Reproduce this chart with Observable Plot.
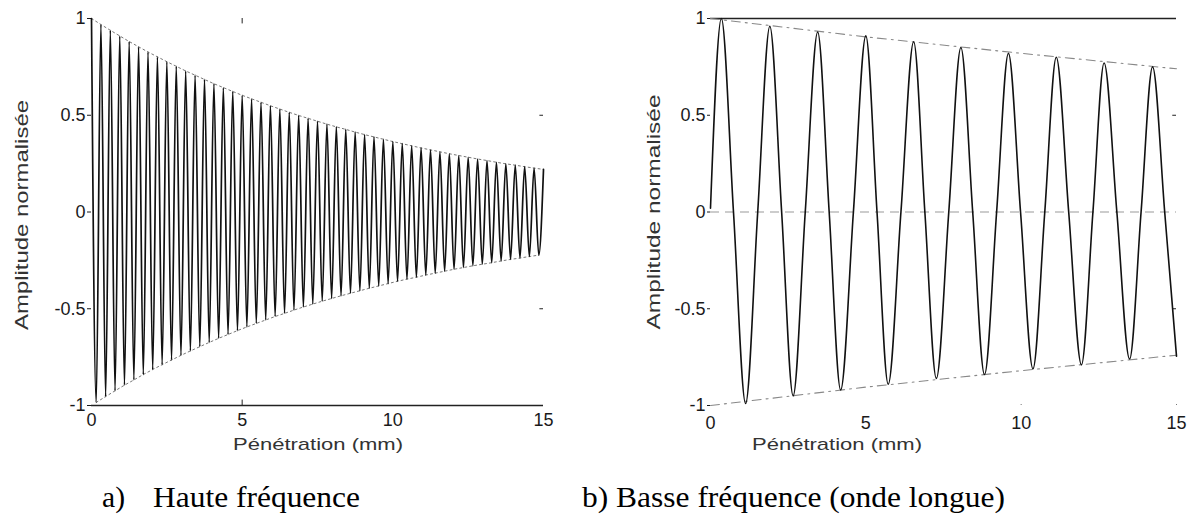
<!DOCTYPE html>
<html><head><meta charset="utf-8">
<script src="https://cdn.jsdelivr.net/npm/d3@7"></script>
<script src="https://cdn.jsdelivr.net/npm/@observablehq/plot@0.6"></script>
<style>
html,body{margin:0;padding:0;background:#fff;}
#wrap{position:relative;width:1197px;height:529px;overflow:hidden;background:#fff;}
#wrap > svg{position:absolute;top:0;}
</style></head><body><div id="wrap"></div>
<script>
// ---- data ----
const xTicks = [0, 5, 10, 15];
const yTicks = [-1, -0.5, 0, 0.5, 1];

// Panel a (high frequency): period between peaks (mm) and successive peak / trough amplitudes
const aPeriod = 0.3125;
const aPeaks = [1.000,0.969,0.939,0.910,0.881,0.854,0.827,0.802,0.777,0.753,0.729,0.707,0.685,0.663,0.643,0.623,0.603,0.585,0.567,0.549,0.532,0.515,0.499,0.484,0.469,0.454,0.440,0.427,0.413,0.400,0.388,0.376,0.364,0.353,0.342,0.331,0.321,0.311,0.301,0.292,0.283,0.274,0.266,0.257,0.249,0.242,0.234,0.227,0.220];
const aTroughs = [0.984,0.954,0.924,0.895,0.868,0.840,0.814,0.789,0.765,0.741,0.718,0.696,0.674,0.653,0.633,0.613,0.594,0.576,0.558,0.540,0.524,0.507,0.491,0.476,0.461,0.447,0.433,0.420,0.407,0.394,0.382,0.370,0.358,0.347,0.337,0.326,0.316,0.306,0.296,0.287,0.278,0.270,0.262,0.253,0.245,0.238,0.230,0.223];

// Panel b (low frequency): key points of the curve (start, peaks, zero crossings, troughs)
const bX = [0,0.35,0.74,1.13,1.52,1.91,2.29,2.66,3.05,3.45,3.82,4.19,4.60,5.00,5.36,5.72,6.13,6.54,6.90,7.27,7.67,8.06,8.44,8.82,9.21,9.59,9.98,10.38,10.76,11.13,11.53,11.94,12.31,12.67,13.08,13.49,13.86,14.23,14.62,15.0];
const bY = [0.02,1.00,0,-0.99,0,0.96,0,-0.95,0,0.93,0,-0.92,0,0.91,0,-0.89,0,0.88,0,-0.86,0,0.85,0,-0.84,0,0.82,0,-0.81,0,0.80,0,-0.79,0,0.77,0,-0.76,0,0.75,0,-0.745];
const bEnvX = [0, 5, 10, 15];
const bEnvY = [1, 0.905, 0.82, 0.74];

const xLabel = "Pénétration (mm)";
const yLabel = "Amplitude normalisée";
const captionALetter = "a)";
const captionAText = "Haute fréquence";
const captionB = "b) Basse fréquence (onde longue)";

// ---- tables ----
const aPts = [];
for (let k = 0; k < aPeaks.length; k++) {
  aPts.push({x: k * aPeriod, y: aPeaks[k]});
  if (k < aTroughs.length) aPts.push({x: (k + 0.5) * aPeriod, y: -aTroughs[k]});
}
const aTop = aPeaks.map((v, k) => ({x: k * aPeriod, y: v}));
const aBot = aTroughs.map((v, k) => ({x: (k + 0.5) * aPeriod, y: -v}));
const bPts = bX.map((x, i) => ({x, y: bY[i]}));
const bTop = bEnvX.map((x, i) => ({x, y: bEnvY[i]}));
const bBot = bEnvX.map((x, i) => ({x, y: -bEnvY[i]}));

const fmt = d => String(d);
const font = "'Liberation Sans', Arial, sans-serif";
const common = {
  height: 529, marginTop: 18, marginBottom: 124,
  x: {domain: [0, 15]}, y: {domain: [-1, 1]},
  style: {fontFamily: font, fontSize: "18px", color: "#1a1a1a", background: "transparent", overflow: "visible"}
};

const plotA = Plot.plot({
  ...common, width: 598, marginLeft: 91, marginRight: 55,
  marks: [
    Plot.axisY({ticks: yTicks, tickFormat: fmt, tickSize: 4, tickPadding: 2, label: null, fontSize: 18}),
    Plot.axisX({ticks: xTicks, tickFormat: fmt, tickSize: 0, tickPadding: 8, label: null, fontSize: 18}),
    Plot.ruleY([-1], {stroke: "#222", strokeWidth: 1.4}),
    Plot.ruleX([5], {y1: -1, y2: -0.972, stroke: "#222"}),
    Plot.ruleX([5], {y1: 1, y2: 0.972, stroke: "#222"}),
    Plot.ruleY([0.5, -0.5], {x1: 14.88, x2: 15, stroke: "#222"}),
    Plot.line(aTop, {x: "x", y: "y", stroke: "#777", strokeWidth: 1, strokeDasharray: "2,3"}),
    Plot.line(aBot, {x: "x", y: "y", stroke: "#777", strokeWidth: 1, strokeDasharray: "2,3"}),
    Plot.line(aPts, {x: "x", y: "y", curve: "monotone-x", stroke: "#111", strokeWidth: 1.7})
  ]
});
plotA.style.left = "0px";

const plotB = Plot.plot({
  ...common, width: 599, marginLeft: 112, marginRight: 21,
  marks: [
    Plot.axisY({ticks: yTicks, tickFormat: fmt, tickSize: 3, tickPadding: 2, label: null, fontSize: 18}),
    Plot.axisX({ticks: xTicks, tickFormat: fmt, tickSize: 0, tickPadding: 11, label: null, fontSize: 18}),
    Plot.ruleY([1], {stroke: "#222", strokeWidth: 1.4}),
    Plot.ruleY([0], {stroke: "#999", strokeWidth: 1, strokeDasharray: "9,6"}),
    Plot.ruleX([10, 15], {y1: -1, y2: -0.985, stroke: "#777", strokeDasharray: "1,2"}),
    Plot.ruleY([0.5, -0.5], {x1: 14.88, x2: 15, stroke: "#222"}),
    Plot.line(bTop, {x: "x", y: "y", stroke: "#888", strokeWidth: 1.1, strokeDasharray: "9,5,2,5"}),
    Plot.line(bBot, {x: "x", y: "y", stroke: "#888", strokeWidth: 1.1, strokeDasharray: "9,5,2,5"}),
    Plot.line(bPts, {x: "x", y: "y", curve: "monotone-x", stroke: "#111", strokeWidth: 1.6})
  ]
});
plotB.style.left = "598px";

const wrap = document.getElementById("wrap");
wrap.appendChild(plotA);
wrap.appendChild(plotB);

// overlay with axis titles and captions
const ov = d3.select(wrap).append("svg")
  .attr("width", 1197).attr("height", 529)
  .style("left", "0px").style("pointer-events", "none");

function axisTitles(cx, cy, xLen, vx, vy, vLen) {
  ov.append("text").text(xLabel)
    .attr("x", cx).attr("y", cy).attr("text-anchor", "middle").attr("dominant-baseline", "central")
    .attr("font-family", font).attr("font-size", 17).attr("fill", "#333")
    .attr("textLength", xLen).attr("lengthAdjust", "spacingAndGlyphs");
  ov.append("text").text(yLabel)
    .attr("transform", `translate(${vx},${vy}) rotate(-90)`)
    .attr("text-anchor", "middle").attr("dominant-baseline", "central")
    .attr("font-family", font).attr("font-size", 18).attr("fill", "#333")
    .attr("textLength", vLen).attr("lengthAdjust", "spacingAndGlyphs");
}
axisTitles(318, 444, 170, 22, 215, 230);
axisTitles(837, 444, 170, 654, 212, 235);

const serif = "'Liberation Serif', 'Times New Roman', serif";
ov.append("text").text(captionALetter).attr("x", 102).attr("y", 507)
  .attr("font-family", serif).attr("font-size", 29).attr("fill", "#000")
  .attr("textLength", 23).attr("lengthAdjust", "spacingAndGlyphs");
ov.append("text").text(captionAText).attr("x", 153).attr("y", 507)
  .attr("font-family", serif).attr("font-size", 29).attr("fill", "#000")
  .attr("textLength", 207).attr("lengthAdjust", "spacingAndGlyphs");
ov.append("text").text(captionB).attr("x", 582).attr("y", 507)
  .attr("font-family", serif).attr("font-size", 29).attr("fill", "#000")
  .attr("textLength", 423).attr("lengthAdjust", "spacingAndGlyphs");
</script>
</body></html>
